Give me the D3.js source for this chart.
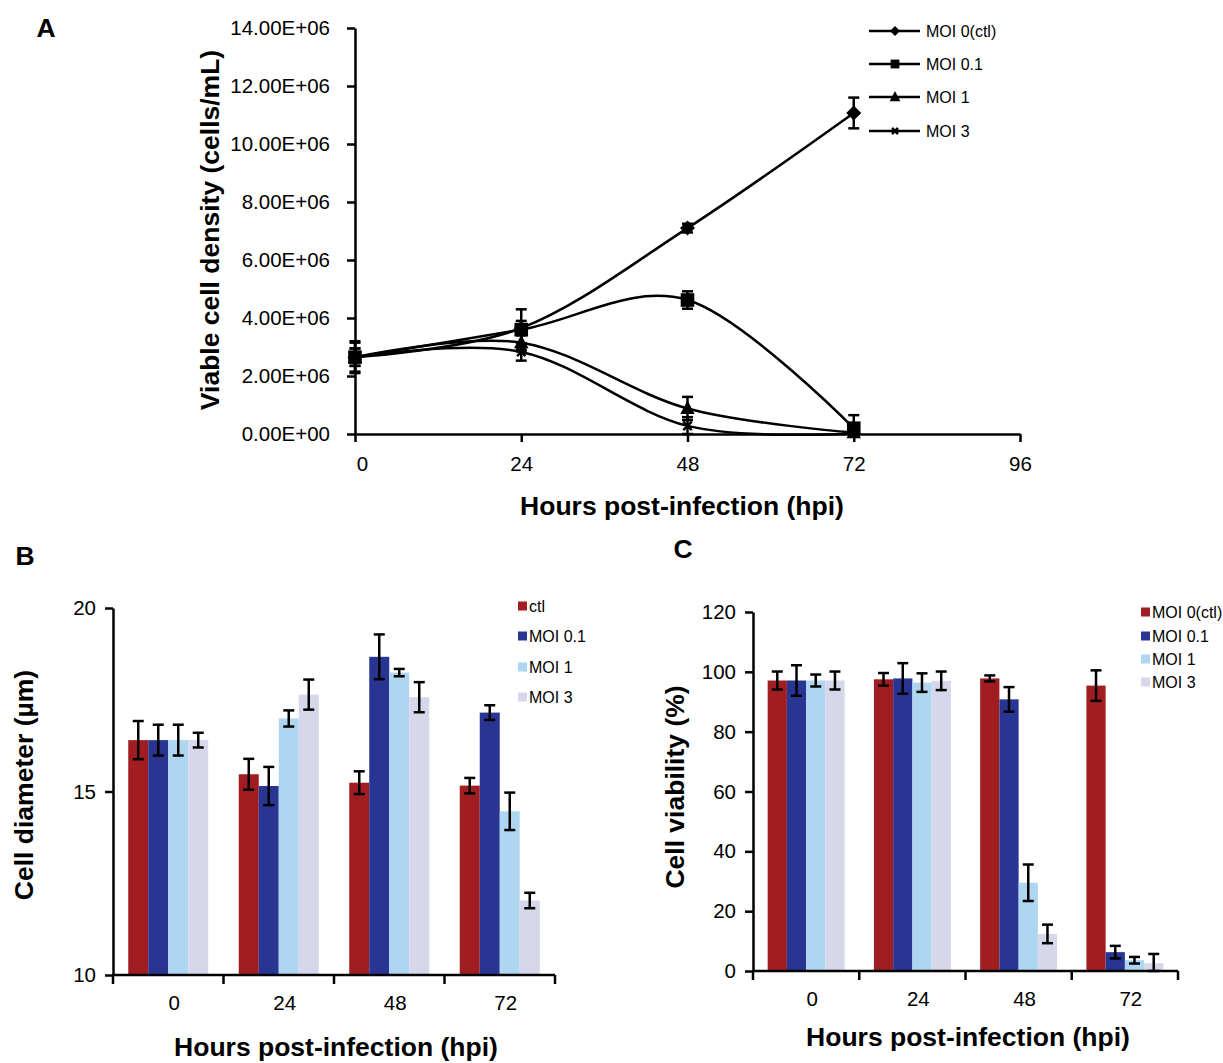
<!DOCTYPE html>
<html><head><meta charset="utf-8">
<script src="https://cdn.jsdelivr.net/npm/d3@7"></script>
<style>
body{margin:0;background:#fff;}
text{font-family:"Liberation Sans",Arial,sans-serif;fill:#000;}
</style></head>
<body>
<svg id="c" width="1223" height="1063"></svg>
<script>
// ---------- DATA ----------
const hours = [0, 24, 48, 72];
const xTicksA = [0, 24, 48, 72, 96];
const yTicksA = [0, 2e6, 4e6, 6e6, 8e6, 10e6, 12e6, 14e6];
const seriesA = ["MOI 0(ctl)", "MOI 0.1", "MOI 1", "MOI 3"];
const markersA = ["diamond", "square", "triangle", "cross"];
const densMOI0 = [2.65e6, 3.65e6, 7.1e6, 11.07e6];
const densMOI0Err = [0.55e6, 0.25e6, 0.15e6, 0.53e6];
const densMOI01 = [2.65e6, 3.6e6, 4.62e6, 0.2e6];
const densMOI01Err = [0.5e6, 0.7e6, 0.3e6, 0.45e6];
const densMOI1 = [2.65e6, 3.15e6, 0.88e6, 0.05e6];
const densMOI1Err = [0.3e6, 0.3e6, 0.4e6, 0.1e6];
const densMOI3 = [2.65e6, 2.83e6, 0.28e6, 0.02e6];
const densMOI3Err = [0.3e6, 0.3e6, 0.3e6, 0.1e6];

const categories = ["0", "24", "48", "72"];
const seriesB = ["ctl", "MOI 0.1", "MOI 1", "MOI 3"];
const seriesC = ["MOI 0(ctl)", "MOI 0.1", "MOI 1", "MOI 3"];
const barColors = ["#A01D22", "#283593", "#AED6F1", "#D6D7EA"];

const diamCtl = [16.4, 15.47, 15.24, 15.16];
const diamCtlErr = [0.52, 0.42, 0.31, 0.21];
const diamMOI01 = [16.4, 15.15, 18.67, 17.15];
const diamMOI01Err = [0.42, 0.52, 0.61, 0.2];
const diamMOI1 = [16.4, 16.99, 18.24, 14.46];
const diamMOI1Err = [0.42, 0.22, 0.1, 0.51];
const diamMOI3 = [16.4, 17.64, 17.57, 12.03];
const diamMOI3Err = [0.2, 0.41, 0.41, 0.21];
const yTicksB = [10, 15, 20];

const viabCtl = [97.1, 97.5, 97.8, 95.4];
const viabCtlErr = [3, 2.1, 1, 5.1];
const viabMOI01 = [97.1, 97.8, 90.8, 6.3];
const viabMOI01Err = [5.1, 5.1, 4.1, 2.1];
const viabMOI1 = [97.1, 96.4, 29.5, 3.6];
const viabMOI1Err = [2, 3.1, 6.1, 1.1];
const viabMOI3 = [97.1, 97.0, 12.4, 2.6];
const viabMOI3Err = [3, 3.1, 3.1, 3.1];
const yTicksC = [0, 20, 40, 60, 80, 100, 120];

// ---------- DRAW ----------
const svg = d3.select("#c");
const AX = 2.5;
const TF = 20.5;

function styleAxis(g, fs) {
  g.select(".domain").attr("stroke", "#000").attr("stroke-width", AX);
  g.selectAll(".tick line").attr("stroke", "#000").attr("stroke-width", AX);
  g.selectAll(".tick text").attr("font-size", fs).attr("fill", "#000")
    .attr("font-family", '"Liberation Sans",Arial,sans-serif');
}
function boldText(x, y, txt, rot, size) {
  const t = svg.append("text").attr("font-weight", "bold").attr("font-size", size || 26.5)
    .attr("text-anchor", "middle").text(txt);
  if (rot) t.attr("transform", `translate(${x},${y}) rotate(-90)`);
  else t.attr("x", x).attr("y", y);
  return t;
}
function errBar(g, x, y1, y2, cap) {
  g.append("line").attr("x1", x).attr("x2", x).attr("y1", y1).attr("y2", y2)
    .attr("stroke", "#000").attr("stroke-width", 2.5);
  [y1, y2].forEach(y => g.append("line").attr("x1", x - cap / 2).attr("x2", x + cap / 2)
    .attr("y1", y).attr("y2", y).attr("stroke", "#000").attr("stroke-width", 2.5));
}
function marker(g, type, cx, cy, s) {
  if (type === "diamond") {
    g.append("path").attr("d", `M${cx},${cy - s}L${cx + s},${cy}L${cx},${cy + s}L${cx - s},${cy}Z`).attr("fill", "#000");
  } else if (type === "square") {
    g.append("rect").attr("x", cx - s * 0.8).attr("y", cy - s * 0.8).attr("width", s * 1.6).attr("height", s * 1.6).attr("fill", "#000");
  } else if (type === "triangle") {
    g.append("path").attr("d", `M${cx},${cy - s}L${cx + s * 0.9},${cy + s * 0.7}L${cx - s * 0.9},${cy + s * 0.7}Z`).attr("fill", "#000");
  } else {
    const k = s * 0.6;
    g.append("path").attr("d", `M${cx - k},${cy - k}L${cx + k},${cy + k}M${cx - k},${cy + k}L${cx + k},${cy - k}`)
      .attr("stroke", "#000").attr("stroke-width", 2.5);
  }
}

// ===== Panel A =====
const xA = d3.scaleLinear().domain([0, 96]).range([355, 1020]);
const yA = d3.scaleLinear().domain([0, 14e6]).range([434, 28]);
const fmtA = v => v === 0 ? "0.00E+00" : (v / 1e6).toFixed(2) + "E+06";
const gyA = svg.append("g").attr("transform", `translate(${xA(0)},0)`)
  .call(d3.axisLeft(yA).tickValues(yTicksA).tickFormat(fmtA).tickSize(8).tickSizeOuter(0).tickPadding(17));
styleAxis(gyA, TF);
const gxA = svg.append("g").attr("transform", `translate(0,${yA(0)})`)
  .call(d3.axisBottom(xA).tickValues(xTicksA).tickSize(8).tickSizeOuter(0).tickPadding(14));
styleAxis(gxA, TF);
gxA.selectAll(".tick text").filter(d => d === 0).attr("dx", 7);

const densSeries = [densMOI0, densMOI01, densMOI1, densMOI3];
const densErrs = [densMOI0Err, densMOI01Err, densMOI1Err, densMOI3Err];
const lineA = d3.line().x((d, i) => xA(hours[i])).y(d => yA(d)).curve(d3.curveCatmullRom.alpha(0));
const gA = svg.append("g");
densSeries.forEach(s => gA.append("path").attr("d", lineA(s)).attr("fill", "none")
  .attr("stroke", "#000").attr("stroke-width", 2.5));
densSeries.forEach((s, si) => s.forEach((v, i) => {
  errBar(gA, xA(hours[i]), yA(v + densErrs[si][i]), yA(Math.max(0, v - densErrs[si][i])), 11);
}));
const mSize = [7.5, 8.5, 8, 7];
densSeries.forEach((s, si) => s.forEach((v, i) => marker(gA, markersA[si], xA(hours[i]), yA(v), mSize[si])));

// legend A
const legA = svg.append("g");
const legAY = [31, 64, 97, 131];
seriesA.forEach((n, i) => {
  legA.append("line").attr("x1", 869).attr("x2", 920).attr("y1", legAY[i]).attr("y2", legAY[i])
    .attr("stroke", "#000").attr("stroke-width", 2.5);
  marker(legA, markersA[i], 895, legAY[i], [5, 5.5, 6, 5][i]);
  legA.append("text").attr("x", 926).attr("y", legAY[i]).attr("dy", "0.35em").attr("font-size", 16).text(n);
});
boldText(219, 230, "Viable cell density (cells/mL)", true);
boldText(682, 515, "Hours post-infection (hpi)");
boldText(46, 37, "A");

// ===== Bar chart helper =====
function barChart(opt) {
  const x0 = d3.scaleBand().domain(categories).range(opt.xr).padding(0);
  const bw = x0.bandwidth();
  const x1 = d3.scaleBand().domain(opt.series).range([bw * 0.138, bw * 0.862]).padding(0);
  const y = d3.scaleLinear().domain(opt.yd).range(opt.yr);
  const g = svg.append("g");
  opt.vals.forEach((s, si) => s.forEach((v, i) => {
    g.append("rect").attr("x", x0(categories[i]) + x1(opt.series[si])).attr("width", x1.bandwidth())
      .attr("y", y(v)).attr("height", y(opt.yd[0]) - y(v)).attr("fill", barColors[si]);
  }));
  opt.vals.forEach((s, si) => s.forEach((v, i) => {
    const cx = x0(categories[i]) + x1(opt.series[si]) + x1.bandwidth() / 2;
    errBar(g, cx, y(v + opt.errs[si][i]), y(Math.max(opt.yd[0], v - opt.errs[si][i])), 11);
  }));
  const gy = svg.append("g").attr("transform", `translate(${opt.xr[0]},0)`)
    .call(d3.axisLeft(y).tickValues(opt.yt).tickSize(8).tickSizeOuter(0).tickPadding(9));
  styleAxis(gy, TF);
  const gx = svg.append("g").attr("transform", `translate(0,${y(opt.yd[0])})`);
  gx.append("line").attr("x1", opt.xr[0]).attr("x2", opt.xr[1]).attr("y1", 0).attr("y2", 0)
    .attr("stroke", "#000").attr("stroke-width", AX);
  const bounds = categories.map(c => x0(c)).concat([opt.xr[1]]);
  bounds.forEach(b => gx.append("line").attr("x1", b).attr("x2", b).attr("y1", 0).attr("y2", 9)
    .attr("stroke", "#000").attr("stroke-width", AX));
  categories.forEach(c => gx.append("text").attr("x", x0(c) + bw / 2 + 6).attr("y", 28)
    .attr("dy", "0.35em").attr("text-anchor", "middle").attr("font-size", TF).text(c));
  opt.series.forEach((n, i) => {
    const ly = opt.legY[i];
    svg.append("rect").attr("x", opt.legX).attr("y", ly - 4.5).attr("width", 9).attr("height", 9).attr("fill", barColors[i]);
    svg.append("text").attr("x", opt.legX + 11).attr("y", ly).attr("dy", "0.35em").attr("font-size", 16).text(n);
  });
}

// ===== Panel B =====
barChart({
  xr: [113, 555], yd: [10, 20], yr: [975, 608], yt: yTicksB, series: seriesB,
  vals: [diamCtl, diamMOI01, diamMOI1, diamMOI3],
  errs: [diamCtlErr, diamMOI01Err, diamMOI1Err, diamMOI3Err],
  legX: 518, legY: [606, 636, 667, 697]
});
boldText(33, 785, "Cell diameter (µm)", true);
boldText(336, 1056, "Hours post-infection (hpi)");
boldText(25, 565, "B");

// ===== Panel C =====
barChart({
  xr: [753, 1178], yd: [0, 120], yr: [971, 612], yt: yTicksC, series: seriesC,
  vals: [viabCtl, viabMOI01, viabMOI1, viabMOI3],
  errs: [viabCtlErr, viabMOI01Err, viabMOI1Err, viabMOI3Err],
  legX: 1141, legY: [612, 636, 659, 682]
});
boldText(684, 787, "Cell viability (%)", true);
boldText(968, 1046, "Hours post-infection (hpi)");
boldText(683, 558, "C");
</script>
</body></html>
